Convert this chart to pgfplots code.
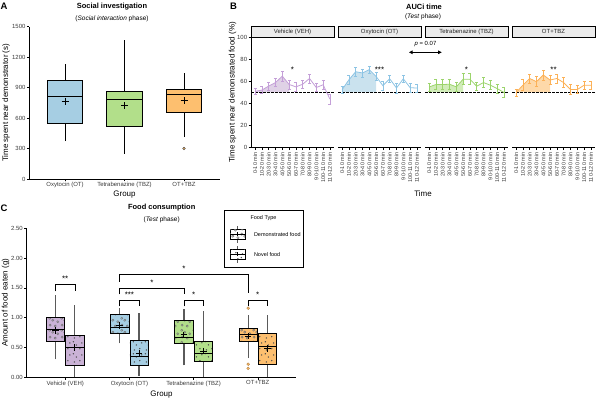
\documentclass[border=0pt]{standalone}
\usepackage{pgfplots}
\pgfplotsset{compat=1.18}
\usepackage{pgfplotstable}
\usetikzlibrary{patterns.meta,arrows.meta}
\usepackage{fontspec}
\setmainfont{Liberation Sans}
\definecolor{vehC}{HTML}{CAB2D6}
\definecolor{otC}{HTML}{A6CEE3}
\definecolor{tbzC}{HTML}{B2DF8A}
\definecolor{ottbzC}{HTML}{FDBF6F}
\definecolor{vehL}{HTML}{C49FD8}
\definecolor{otL}{HTML}{8DC4E4}
\definecolor{tbzL}{HTML}{9CD46C}
\definecolor{ottbzL}{HTML}{FCB157}
\definecolor{tickgray}{HTML}{3A3A3A}
\definecolor{stripgray}{HTML}{EBEBEB}
\definecolor{whiskgray}{HTML}{5A5A5A}

\pgfdeclarepattern{
  name=opencirc,
  type=uncolored,
  bottom left={\pgfpoint{0bp}{0bp}},
  top right={\pgfpoint{12bp}{12bp}},
  tile size={\pgfpoint{12bp}{12bp}},
  code={
    \pgfsetlinewidth{0.5bp}
    \pgfpathcircle{\pgfpoint{2.2bp}{3bp}}{1.15bp}
    \pgfpathcircle{\pgfpoint{7.6bp}{2bp}}{1.15bp}
    \pgfpathcircle{\pgfpoint{5bp}{8.2bp}}{1.15bp}
    \pgfpathcircle{\pgfpoint{10.3bp}{6.6bp}}{1.15bp}
    \pgfpathcircle{\pgfpoint{1.8bp}{10.3bp}}{1.15bp}
    \pgfusepath{stroke}
  }
}
\pgfdeclarepattern{
  name=fdots,
  type=uncolored,
  bottom left={\pgfpoint{0bp}{0bp}},
  top right={\pgfpoint{12bp}{12bp}},
  tile size={\pgfpoint{12bp}{12bp}},
  code={
    \pgfpathcircle{\pgfpoint{2.5bp}{2.2bp}}{0.8bp}
    \pgfpathcircle{\pgfpoint{8.2bp}{3.5bp}}{0.8bp}
    \pgfpathcircle{\pgfpoint{4.6bp}{7.4bp}}{0.8bp}
    \pgfpathcircle{\pgfpoint{10.2bp}{9.6bp}}{0.8bp}
    \pgfpathcircle{\pgfpoint{1.4bp}{10.8bp}}{0.8bp}
    \pgfusepath{fill}
  }
}

\pgfplotstableread{
k y e
1 51.0 2.5
2 52.2 3.0
3 55.8 3.5
4 59.0 3.5
5 64.8 4.5
6 57.3 4.0
7 55.1 4.0
8 57.5 4.0
9 62.7 4.0
10 54.5 3.5
11 57.0 4.0
12 44.0 4.5
}\vehB
\pgfplotstableread{
k y e
1 52.5 3.0
2 61.5 4.0
3 68.8 4.0
4 67.7 3.5
5 70.7 3.0
6 64.5 3.5
7 56.2 4.0
8 62.4 3.5
9 54.1 4.5
10 62.4 3.5
11 54.4 4.0
12 54.0 3.5
}\otB
\pgfplotstableread{
k y e
1 55.0 3.5
2 57.2 4.5
3 57.2 4.5
4 57.5 4.5
5 55.1 4.0
6 62.0 5.0
7 62.0 5.0
8 55.7 3.5
9 59.0 4.5
10 56.6 4.0
11 53.6 4.0
12 50.0 4.5
}\tbzB
\pgfplotstableread{
k y e
1 50.0 3.0
2 56.6 5.0
3 62.7 4.0
4 59.8 4.5
5 65.9 4.5
6 61.3 4.0
7 62.7 4.0
8 58.9 4.5
9 52.7 4.5
10 52.7 3.5
11 56.6 3.5
12 56.6 3.5
}\ottbzB

\pgfplotsset{
  gg/.style={
    scale only axis,
    anchor=south west,
    axis lines*=left,
    axis line style={black, line width=0.5bp},
    tick align=outside,
    major tick length=2.5bp,
    tick style={black, line width=0.5bp},
    tick label style={font=\fontsize{6}{7}\selectfont, color=tickgray},
    xticklabel style={inner sep=0.8bp},
    yticklabel style={inner sep=1.2bp},
    /pgf/number format/assume math mode=true,
    /pgf/number format/1000 sep={},
    clip=false,
  },
  bpanel/.style={
    gg, width=83bp, height=110.4bp,
    xmin=0.4, xmax=12.6, ymin=0, ymax=100,
    xtick={1,2,3,4,5,6,7,8,9,10,11,12},
    xticklabels={0-10 min,10-20 min,20-30 min,30-40 min,40-50 min,50-60 min,60-70 min,70-80 min,80-90 min,90-100 min,100-110 min,110-120 min},
    xticklabel style={rotate=90, anchor=east, font=\fontsize{5.5}{6}\selectfont, inner sep=2.2bp},
    ytick={0,20,40,60,80,100},
  },
  serie/.style={#1, line width=0.8bp,
    error bars/.cd, y dir=both, y explicit,
    error bar style={line width=0.6bp, #1},
    error mark options={rotate=90, mark size=1.5bp, line width=0.6bp, #1}},
  whA/.style={black, line width=0.6bp},
  whC/.style={whiskgray, line width=1.3bp},
  md/.style={black, line width=0.9bp},
  demo/.style={draw=black, line width=0.7bp, fill=#1, postaction={pattern=opencirc, pattern color=black!55}},
  novel/.style={draw=black, line width=0.7bp, fill=#1, postaction={pattern=fdots, pattern color=black!70}},
}
% #1 left, #2 centre, #3 right, #4 lower whisker, #5 Q1, #6 median, #7 Q3, #8 upper whisker, #9 box style
\newcommand{\gbox}[9]{%
  \addplot[wh] coordinates {(#2,#4) (#2,#5)};
  \addplot[wh] coordinates {(#2,#7) (#2,#8)};
  \addplot[#9] coordinates {(#1,#5) (#3,#5) (#3,#7) (#1,#7)} -- cycle;
  \addplot[md] coordinates {(#1,#6) (#3,#6)};
}

\begin{document}
\begin{tikzpicture}
\useasboundingbox (0,0) rectangle (600bp,400bp);

% ---------------- Panel A ----------------
\begin{axis}[gg, at={(29.3bp,221bp)}, width=190.4bp, height=152.3bp,
  xmin=0.4, xmax=3.6, ymin=0, ymax=1500,
  ytick={0,300,600,900,1200,1500},
  xtick={1,2,3}, xticklabels={Oxytocin (OT),Tetrabenazine (TBZ),OT+TBZ},
  wh/.style={whA}]
\gbox{0.7}{1}{1.3}{373}{546}{810}{973}{1135}{draw=black, fill=otC, line width=0.8bp}
\gbox{1.7}{2}{2.3}{248}{516}{785}{864}{1366}{draw=black, fill=tbzC, line width=0.8bp}
\gbox{2.7}{3}{3.3}{412}{655}{830}{878}{1040}{draw=black, fill=ottbzC, line width=0.8bp}
\addplot[only marks, mark=+, mark size=3.5bp, line width=0.8bp, black] coordinates {(1,765) (2,721) (3,770)};
\addplot[only marks, mark=*, mark size=1.3bp, fill=ottbzC, draw=black!75, line width=0.4bp] coordinates {(3,300)};
\end{axis}

% ---------------- Panel B ----------------
\begin{axis}[bpanel, at={(251bp,252.3bp)}]
\addplot[fill=vehC, fill opacity=0.6, draw=none] coordinates {(1,50) (1,51.0) (2,52.2) (3,55.8) (4,59.0) (5,64.8) (6,57.3) (6,50)};
\addplot[black, line width=0.6bp, dash pattern=on 2.5bp off 1.5bp] coordinates {(0.4,50) (12.6,50)};
\addplot[serie=vehL] table[x=k, y=y, y error=e] {\vehB};
\node[anchor=base, font=\fontsize{8}{8}\selectfont] at (axis cs:6.5,68.5) {*};
\end{axis}
\begin{axis}[bpanel, at={(338bp,252.3bp)}, hide y axis]
\addplot[fill=otC, fill opacity=0.6, draw=none] coordinates {(1,50) (1,52.5) (2,61.5) (3,68.8) (4,67.7) (5,70.7) (6,64.5) (6,50)};
\addplot[black, line width=0.6bp, dash pattern=on 2.5bp off 1.5bp] coordinates {(0.4,50) (12.6,50)};
\addplot[serie=otL] table[x=k, y=y, y error=e] {\otB};
\node[anchor=base, font=\fontsize{8}{8}\selectfont] at (axis cs:6.5,68.5) {***};
\end{axis}
\begin{axis}[bpanel, at={(425bp,252.3bp)}, hide y axis]
\addplot[fill=tbzC, fill opacity=0.6, draw=none] coordinates {(1,50) (1,55.0) (2,57.2) (3,57.2) (4,57.5) (5,55.1) (6,62.0) (6,50)};
\addplot[black, line width=0.6bp, dash pattern=on 2.5bp off 1.5bp] coordinates {(0.4,50) (12.6,50)};
\addplot[serie=tbzL] table[x=k, y=y, y error=e] {\tbzB};
\node[anchor=base, font=\fontsize{8}{8}\selectfont] at (axis cs:6.5,68.5) {*};
\end{axis}
\begin{axis}[bpanel, at={(512bp,252.3bp)}, hide y axis]
\addplot[fill=ottbzC, fill opacity=0.6, draw=none] coordinates {(1,50) (1,50.0) (2,56.6) (3,62.7) (4,59.8) (5,65.9) (6,61.3) (6,50)};
\addplot[black, line width=0.6bp, dash pattern=on 2.5bp off 1.5bp] coordinates {(0.4,50) (12.6,50)};
\addplot[serie=ottbzL] table[x=k, y=y, y error=e] {\ottbzB};
\node[anchor=base, font=\fontsize{8}{8}\selectfont] at (axis cs:6.5,68.5) {**};
\end{axis}

% ---------------- Panel C ----------------
\begin{axis}[gg, at={(26.7bp,22.7bp)}, width=269.6bp, height=149bp,
  xmin=0.4, xmax=4.6, ymin=0, ymax=2.5,
  ytick={0,0.5,1,1.5,2,2.5}, yticklabels={0.00,0.50,1.00,1.50,2.00,2.50},
  xtick={1,2,3,4}, xticklabels={Vehicle (VEH),Oxytocin (OT),Tetrabenazine (TBZ),OT+TBZ},
  wh/.style={whC}]
\gbox{0.7075}{0.85}{0.9925}{0.30}{0.61}{0.80}{1.00}{1.38}{demo=vehC}
\gbox{1.0075}{1.15}{1.2925}{0.00}{0.20}{0.50}{0.70}{1.22}{novel=vehC}
\gbox{1.7075}{1.85}{1.9925}{0.57}{0.74}{0.84}{1.05}{1.17}{demo=otC}
\gbox{2.0075}{2.15}{2.2925}{0.03}{0.20}{0.35}{0.62}{1.08}{novel=otC}
\gbox{2.7075}{2.85}{2.9925}{0.20}{0.57}{0.67}{0.95}{1.14}{demo=tbzC}
\gbox{3.0075}{3.15}{3.2925}{0.01}{0.26}{0.40}{0.61}{1.12}{novel=tbzC}
\gbox{3.7075}{3.85}{3.9925}{0.32}{0.60}{0.72}{0.82}{1.05}{demo=ottbzC}
\gbox{4.0075}{4.15}{4.2925}{0.00}{0.22}{0.51}{0.74}{1.05}{novel=ottbzC}
\addplot[only marks, mark=*, mark size=1.4bp, fill=ottbzC, draw=ottbzL!70!black, line width=0.4bp] coordinates {(3.85,1.16) (3.85,0.22) (3.85,0.15)};
\addplot[only marks, mark=+, mark size=3.3bp, line width=1bp, black] coordinates {(0.85,0.79) (1.15,0.50) (1.85,0.87) (2.15,0.40) (2.85,0.71) (3.15,0.44) (3.85,0.69) (4.15,0.48)};
\draw[line width=0.6bp] (axis cs:0.85,1.44) -- (axis cs:0.85,1.56) -- (axis cs:1.15,1.56) -- (axis cs:1.15,1.44);
\node[anchor=base, font=\fontsize{8}{8}\selectfont] at (axis cs:1,1.61) {**};
\draw[line width=0.6bp] (axis cs:1.85,1.19) -- (axis cs:1.85,1.30) -- (axis cs:2.15,1.30) -- (axis cs:2.15,1.19);
\node[anchor=base, font=\fontsize{8}{8}\selectfont] at (axis cs:2,1.335) {***};
\draw[line width=0.6bp] (axis cs:1.85,1.39) -- (axis cs:1.85,1.50) -- (axis cs:2.85,1.50) -- (axis cs:2.85,1.39);
\node[anchor=base, font=\fontsize{8}{8}\selectfont] at (axis cs:2.35,1.54) {*};
\draw[line width=0.6bp] (axis cs:1.85,1.60) -- (axis cs:1.85,1.72) -- (axis cs:3.85,1.72) -- (axis cs:3.85,1.42);
\node[anchor=base, font=\fontsize{8}{8}\selectfont] at (axis cs:2.85,1.78) {*};
\draw[line width=0.6bp] (axis cs:2.85,1.19) -- (axis cs:2.85,1.30) -- (axis cs:3.15,1.30) -- (axis cs:3.15,1.19);
\node[anchor=base, font=\fontsize{8}{8}\selectfont] at (axis cs:3,1.335) {*};
\draw[line width=0.6bp] (axis cs:3.85,1.19) -- (axis cs:3.85,1.30) -- (axis cs:4.15,1.30) -- (axis cs:4.15,1.19);
\node[anchor=base, font=\fontsize{8}{8}\selectfont] at (axis cs:4,1.335) {*};
\end{axis}

\begin{scope}[x=1bp,y=1bp]
\foreach \xl/\lab in {251/Vehicle (VEH), 338/Oxytocin (OT), 425/Tetrabenazine (TBZ), 512/OT+TBZ}{
  \draw[fill=stripgray, line width=0.7bp] (\xl,362.7) rectangle ({\xl+83},374);
  \node[font=\fontsize{6}{7}\selectfont, text=black!85] at ({\xl+41.5},368.3) {\lab};
}
\draw[{Triangle[length=3.5bp,width=3.5bp]}-{Triangle[length=3.5bp,width=3.5bp]}, line width=0.6bp] (409,347.7) -- (441.7,347.7);
\node[font=\fontsize{6}{7}\selectfont] at (425.5,355.5) {\textit{p} = 0.07};

\node[font=\bfseries\fontsize{9.5}{10}\selectfont] at (4,393.5) {A};
\node[font=\bfseries\fontsize{7.5}{8}\selectfont] at (112,393.3) {Social investigation};
\node[font=\fontsize{6.5}{7}\selectfont] at (112,380.7) {(\textit{Social interaction} phase)};
\node[rotate=90, font=\fontsize{8}{9}\selectfont] at (6,297.2) {Time spent near demonstrator (s)};
\node[font=\fontsize{8}{9}\selectfont] at (124.5,205.8) {Group};

\node[font=\bfseries\fontsize{9.5}{10}\selectfont] at (233.5,393.5) {B};
\node[font=\bfseries\fontsize{7.5}{8}\selectfont] at (424,393.3) {AUCi time};
\node[font=\fontsize{6.5}{7}\selectfont] at (423,383) {(\textit{Test} phase)};
\node[rotate=90, font=\fontsize{8}{9}\selectfont] at (232.5,307.5) {Time spent near demonstrated food (\%)};
\node[font=\fontsize{8}{9}\selectfont] at (423,206.5) {Time};

\node[font=\bfseries\fontsize{9.5}{10}\selectfont] at (4,192) {C};
\node[font=\bfseries\fontsize{7.5}{8}\selectfont] at (161.7,192.3) {Food consumption};
\node[font=\fontsize{6.5}{7}\selectfont] at (161.7,180) {(\textit{Test} phase)};
\node[rotate=90, font=\fontsize{8}{9}\selectfont] at (5.5,97.2) {Amount of food eaten (g)};
\node[font=\fontsize{8}{9}\selectfont] at (161.5,5.5) {Group};

\draw[line width=0.7bp, fill=white] (224,132.3) rectangle (303.3,190);
\node[font=\fontsize{5.5}{6}\selectfont] at (263.5,181.7) {Food Type};
\draw[whiskgray, line width=1bp] (237.5,170.7) -- (237.5,174) (237.5,160.7) -- (237.5,157.4);
\draw[fill=white, postaction={pattern=opencirc, pattern color=black!55}, line width=0.6bp] (230,160.7) rectangle (245,170.7);
\draw[line width=0.6bp] (230,165.7) -- (245,165.7);
\draw[line width=0.8bp] (235.5,165.7) -- (239.5,165.7) (237.5,163.7) -- (237.5,167.7);
\node[anchor=west, font=\fontsize{5.5}{6}\selectfont] at (250.5,165.5) {Demonstrated food};
\draw[whiskgray, line width=1bp] (237.5,150.7) -- (237.5,154) (237.5,140.7) -- (237.5,137.4);
\draw[fill=white, postaction={pattern=fdots, pattern color=black!70}, line width=0.6bp] (230,140.7) rectangle (245,150.7);
\draw[line width=0.6bp] (230,145.7) -- (245,145.7);
\draw[line width=0.8bp] (235.5,145.7) -- (239.5,145.7) (237.5,143.7) -- (237.5,147.7);
\node[anchor=west, font=\fontsize{5.5}{6}\selectfont] at (250.5,145.5) {Novel food};
\end{scope}
\end{tikzpicture}
\end{document}
